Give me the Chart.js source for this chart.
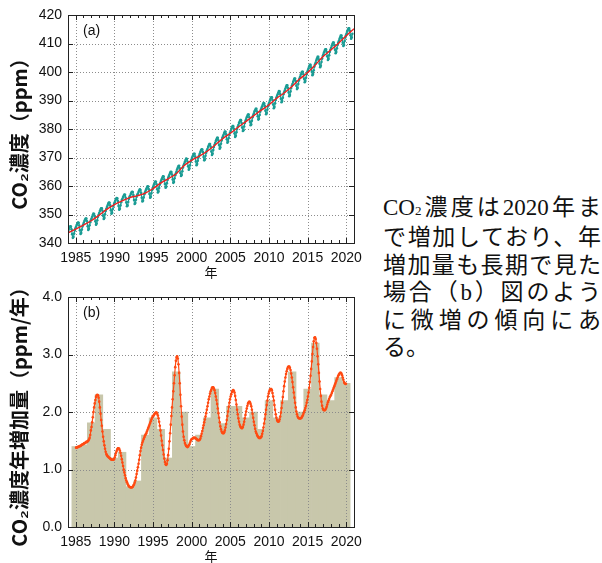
<!DOCTYPE html>
<html>
<head>
<meta charset="utf-8">
<script src="https://cdn.jsdelivr.net/npm/chart.js@4.4.1/dist/chart.umd.min.js"></script>
<style>
  html, body { margin: 0; padding: 0; background: #fff; }
  body { width: 602px; height: 563px; position: relative; overflow: hidden; }
  #wrapA { position: absolute; left: 0; top: 0; width: 370px; height: 282px; }
  #wrapB { position: absolute; left: 0; top: 282px; width: 370px; height: 281px; }
  #note {
    position: absolute; left: 383px; top: 194px; width: 218px;
    font-family: "Liberation Serif", "Noto Sans CJK JP", serif;
    font-size: 23px; line-height: 27.4px; color: #111;
  }
  #note div { text-align: justify; text-align-last: justify; }
  #note div.last { text-align-last: left; }
  #note .sub { font-size: 13px; }
</style>
</head>
<body>
<div id="wrapA"><canvas id="chartA" width="370" height="282"></canvas></div>
<div id="wrapB"><canvas id="chartB" width="370" height="281"></canvas></div>
<div id="note">
  <div>CO<span class="sub">2</span>濃度は2020年ま</div>
  <div>で増加しており、年</div>
  <div>増加量も長期で見た</div>
  <div>場合（b）図のよう</div>
  <div>に微増の傾向にあ</div>
  <div class="last">る。</div>
</div>
<script>
// ---- data -----------------------------------------------------------
// x-axis tick years (both panels)
const xTickYears = [1985, 1990, 1995, 2000, 2005, 2010, 2015, 2020];

// (a) monthly mean CO2 concentration (ppm), Jan 1984 onward
const co2Monthly = [
  344.4,345.0,345.5,345.9,345.8,344.8,343.1,341.8,342.1,343.3,344.4,345.2,
  345.7,346.3,346.8,347.2,347.1,346.1,344.5,343.2,343.5,344.7,345.8,346.5,
  347.1,347.7,348.2,348.6,348.6,347.6,345.9,344.6,345.0,346.2,347.3,348.0,
  348.6,349.2,349.8,350.3,350.2,349.3,347.6,346.4,346.8,348.0,349.2,349.9,
  350.5,351.2,351.7,352.2,352.2,351.3,349.6,348.4,348.8,350.1,351.2,352.0,
  352.6,353.2,353.8,354.2,354.1,353.2,351.5,350.3,350.6,351.9,353.0,353.7,
  354.3,354.9,355.4,355.8,355.7,354.7,353.0,351.7,352.0,353.2,354.3,355.1,
  355.5,356.1,356.6,357.0,356.9,355.9,354.2,352.9,353.2,354.4,355.5,356.2,
  356.6,357.2,357.7,358.0,357.9,356.8,355.1,353.7,354.0,355.2,356.2,356.9,
  357.3,357.9,358.4,358.8,358.6,357.6,355.9,354.6,354.8,356.0,357.1,357.8,
  358.3,358.9,359.4,359.9,359.8,358.8,357.2,355.9,356.2,357.5,358.6,359.3,
  359.9,360.5,361.1,361.6,361.5,360.6,358.9,357.7,358.1,359.3,360.5,361.2,
  361.8,362.4,362.9,363.4,363.3,362.3,360.7,359.4,359.7,361.0,362.1,362.8,
  363.4,364.0,364.6,365.0,364.9,364.0,362.3,361.1,361.4,362.7,363.8,364.5,
  365.1,365.9,366.5,367.0,367.1,366.2,364.6,363.5,363.9,365.2,366.5,367.3,
  367.9,368.5,369.1,369.6,369.5,368.6,366.9,365.7,366.1,367.3,368.5,369.2,
  369.8,370.4,370.9,371.3,371.3,370.3,368.6,367.3,367.7,368.9,370.0,370.7,
  371.3,371.9,372.5,372.9,372.8,371.9,370.2,369.0,369.3,370.6,371.7,372.4,
  373.0,373.7,374.2,374.7,374.7,373.8,372.1,370.9,371.3,372.6,373.7,374.5,
  375.1,375.8,376.4,376.9,376.9,376.0,374.4,373.1,373.5,374.8,376.0,376.8,
  377.4,378.0,378.6,379.1,379.0,378.1,376.4,375.2,375.6,376.8,378.0,378.7,
  379.3,380.0,380.5,381.0,381.0,380.1,378.4,377.2,377.6,378.9,380.0,380.8,
  381.4,382.1,382.6,383.1,383.1,382.1,380.5,379.3,379.6,380.9,382.1,382.8,
  383.4,384.1,384.6,385.1,385.1,384.1,382.5,381.3,381.6,382.9,384.1,384.8,
  385.4,386.1,386.6,387.1,387.1,386.1,384.5,383.3,383.6,384.9,386.1,386.8,
  387.4,388.0,388.6,389.1,389.0,388.1,386.4,385.2,385.6,386.8,388.0,388.7,
  389.3,390.0,390.6,391.1,391.1,390.2,388.6,387.3,387.7,389.0,390.2,391.0,
  391.6,392.2,392.8,393.3,393.2,392.3,390.6,389.4,389.8,391.0,392.2,392.9,
  393.5,394.2,394.8,395.3,395.3,394.4,392.8,391.5,391.9,393.2,394.4,395.2,
  395.8,396.5,397.1,397.7,397.7,396.8,395.2,394.0,394.4,395.8,397.0,397.8,
  398.4,399.1,399.7,400.1,400.1,399.2,397.6,396.4,396.8,398.0,399.2,400.0,
  400.6,401.3,402.0,402.5,402.5,401.6,400.1,398.9,399.3,400.6,401.9,402.7,
  403.3,404.1,404.7,405.3,405.3,404.4,402.9,401.7,402.2,403.5,404.7,405.6,
  406.2,406.9,407.5,408.0,408.0,407.1,405.5,404.2,404.6,405.9,407.1,407.9,
  408.5,409.2,409.8,410.3,410.3,409.4,407.8,406.6,407.0,408.3,409.5,410.3,
  410.9,411.6,412.2,412.8,412.8,411.9,410.3,409.1,409.5,410.9,412.1,412.9,
  413.5,414.2,414.8,415.3,415.3,414.5,412.9,411.7,412.1,413.4
];
const co2StartYear = 1984;

// (a) deseasonalized trend (ppm) at the start of each year
const trendYears = [1984,1985,1986,1987,1988,1989,1990,1991,1992,1993,1994,1995,1996,1997,1998,1999,2000,
  2001,2002,2003,2004,2005,2006,2007,2008,2009,2010,2011,2012,2013,2014,2015,2016,2017,2018,2019,2020,2021];
const trendValues = [343.6,344.9,346.3,347.8,349.7,351.8,353.5,354.8,355.9,356.6,357.5,359.1,361.0,362.6,364.3,367.1,369.0,
  370.5,372.2,374.3,376.6,378.5,380.6,382.6,384.6,386.6,388.5,390.8,392.7,395.0,397.6,399.8,402.5,405.4,407.7,410.1,412.7,415.2];

// (b) annual increase (ppm/year)
const growthYears = [1985,1986,1987,1988,1989,1990,1991,1992,1993,1994,1995,1996,1997,1998,1999,2000,
  2001,2002,2003,2004,2005,2006,2007,2008,2009,2010,2011,2012,2013,2014,2015,2016,2017,2018,2019,2020];
const growthAnnual = [1.40,1.43,1.81,2.30,1.70,1.20,1.30,0.70,0.80,1.60,1.90,1.70,1.20,2.70,2.00,1.40,
  1.60,1.90,2.40,1.80,2.10,2.10,1.90,2.00,1.70,2.20,1.90,2.20,2.70,2.00,2.40,3.20,2.30,2.20,2.60,2.50];

// (b) monthly growth rate (ppm/year), Jan 1985 onward
const growthMonthly = [
  1.38,1.38,1.39,1.39,1.40,1.40,1.41,1.41,1.42,1.43,1.44,1.44,
  1.45,1.46,1.46,1.47,1.48,1.48,1.49,1.50,1.52,1.55,1.60,1.68,
  1.74,1.82,1.91,2.00,2.08,2.15,2.21,2.26,2.29,2.30,2.29,2.25,
  2.18,2.08,1.97,1.86,1.76,1.66,1.57,1.49,1.42,1.36,1.31,1.27,
  1.25,1.23,1.22,1.21,1.20,1.19,1.18,1.17,1.17,1.17,1.17,1.18,
  1.21,1.25,1.29,1.32,1.35,1.37,1.37,1.36,1.33,1.29,1.24,1.18,
  1.12,1.06,1.00,0.95,0.90,0.85,0.81,0.78,0.75,0.73,0.71,0.70,
  0.69,0.69,0.69,0.69,0.70,0.72,0.74,0.77,0.81,0.86,0.92,0.98,
  1.04,1.10,1.17,1.25,1.32,1.38,1.43,1.47,1.50,1.53,1.56,1.59,
  1.61,1.63,1.66,1.69,1.72,1.75,1.78,1.81,1.84,1.87,1.90,1.93,
  1.93,1.95,1.97,1.98,1.99,1.99,1.97,1.94,1.89,1.83,1.76,1.68,
  1.59,1.50,1.42,1.34,1.26,1.19,1.13,1.09,1.08,1.10,1.16,1.25,
  1.36,1.49,1.63,1.78,1.93,2.08,2.22,2.36,2.50,2.64,2.78,2.89,
  2.95,2.97,2.93,2.83,2.68,2.50,2.30,2.10,1.92,1.78,1.66,1.57,
  1.51,1.46,1.43,1.41,1.40,1.39,1.40,1.42,1.44,1.47,1.50,1.52,
  1.53,1.54,1.55,1.55,1.55,1.55,1.54,1.53,1.52,1.51,1.51,1.51,
  1.52,1.54,1.58,1.62,1.67,1.72,1.77,1.82,1.87,1.92,1.98,2.04,
  2.10,2.16,2.22,2.27,2.32,2.36,2.39,2.42,2.43,2.43,2.41,2.38,
  2.33,2.27,2.21,2.14,2.06,1.98,1.90,1.82,1.75,1.70,1.66,1.64,
  1.63,1.63,1.65,1.68,1.73,1.79,1.86,1.93,2.01,2.09,2.16,2.22,
  2.27,2.31,2.35,2.37,2.38,2.37,2.34,2.28,2.21,2.13,2.04,1.96,
  1.89,1.83,1.78,1.75,1.73,1.72,1.72,1.74,1.78,1.83,1.89,1.95,
  2.01,2.06,2.11,2.15,2.17,2.18,2.17,2.14,2.10,2.04,1.97,1.90,
  1.83,1.77,1.71,1.66,1.63,1.60,1.58,1.56,1.55,1.55,1.55,1.56,
  1.58,1.62,1.67,1.73,1.80,1.88,1.96,2.04,2.12,2.20,2.27,2.32,
  2.36,2.39,2.40,2.40,2.38,2.33,2.27,2.20,2.12,2.04,1.96,1.90,
  1.86,1.84,1.83,1.84,1.87,1.92,1.99,2.07,2.16,2.26,2.36,2.45,
  2.53,2.60,2.66,2.71,2.75,2.78,2.79,2.79,2.77,2.73,2.67,2.60,
  2.52,2.43,2.34,2.25,2.16,2.08,2.01,1.96,1.92,1.90,1.89,1.89,
  1.89,1.89,1.90,1.92,1.94,1.97,2.00,2.03,2.07,2.11,2.16,2.21,
  2.27,2.34,2.42,2.52,2.63,2.75,2.88,3.01,3.13,3.23,3.29,3.30,
  3.27,3.20,3.10,2.97,2.83,2.68,2.53,2.40,2.28,2.18,2.11,2.06,
  2.04,2.03,2.03,2.04,2.06,2.09,2.13,2.17,2.20,2.23,2.26,2.28,
  2.30,2.33,2.36,2.39,2.42,2.45,2.48,2.51,2.54,2.57,2.60,2.63,
  2.65,2.67,2.68,2.68,2.67,2.64,2.60,2.56,2.52,2.50,2.49,2.49
];
const growthStartYear = 1985;

// ---- helpers --------------------------------------------------------
const monthly = (arr, y0) => arr.map((v, i) => ({ x: y0 + (i + 0.5) / 12, y: v }));
const paired = (xs, ys) => xs.map((x, i) => ({ x: x, y: ys[i] }));

const tickFont = { family: '"Liberation Sans", Arial, sans-serif', size: 14 };
const titleFontY = { family: '"Noto Sans CJK JP", "Liberation Sans", sans-serif', size: 20, weight: 'bold' };
const titleFontX = { family: '"Noto Sans CJK JP", sans-serif', size: 13 };

// dotted grid, inward ticks, frame and panel label
function drawGrid(chart) {
  const { ctx, chartArea: a, scales: { x, y } } = chart;
  ctx.save();
  ctx.strokeStyle = '#8c8c8c';
  ctx.lineWidth = 1;
  ctx.setLineDash([1, 2]);
  ctx.beginPath();
  x.ticks.forEach(t => {
    const px = Math.round(x.getPixelForValue(t.value)) + 0.5;
    ctx.moveTo(px, a.top); ctx.lineTo(px, a.bottom);
  });
  y.ticks.forEach(t => {
    const py = Math.round(y.getPixelForValue(t.value)) + 0.5;
    if (py <= a.top + 1 || py >= a.bottom - 1) return;
    ctx.moveTo(a.left, py); ctx.lineTo(a.right, py);
  });
  ctx.stroke();
  ctx.restore();
}

const framePlugin = {
  id: 'frame',
  beforeDatasetsDraw(chart, args, opts) {
    if (opts.gridAfter === undefined) drawGrid(chart);
  },
  afterDatasetDraw(chart, args, opts) {
    if (args.index === opts.gridAfter) drawGrid(chart);
  },
  afterDraw(chart, args, opts) {
    const { ctx, chartArea: a, scales: { x, y } } = chart;
    ctx.save();
    ctx.strokeStyle = '#222';
    ctx.lineWidth = 1;
    ctx.beginPath();
    for (let yr = Math.ceil(x.min); yr <= x.max; yr++) {
      const px = Math.round(x.getPixelForValue(yr)) + 0.5;
      const len = yr % 5 === 0 ? 5 : 3;
      ctx.moveTo(px, a.bottom); ctx.lineTo(px, a.bottom - len);
      ctx.moveTo(px, a.top); ctx.lineTo(px, a.top + len);
    }
    y.ticks.forEach(t => {
      const py = Math.round(y.getPixelForValue(t.value)) + 0.5;
      ctx.moveTo(a.left, py); ctx.lineTo(a.left + 5, py);
      ctx.moveTo(a.right, py); ctx.lineTo(a.right - 5, py);
    });
    ctx.stroke();
    ctx.strokeRect(Math.round(a.left) + 0.5, Math.round(a.top) + 0.5,
      Math.round(a.right - a.left), Math.round(a.bottom - a.top));
    ctx.fillStyle = '#111';
    ctx.font = '14px "Liberation Sans", Arial, sans-serif';
    ctx.textBaseline = 'middle';
    ctx.textAlign = 'left';
    ctx.fillText(opts.label, a.left + 15, a.top + 16);
    ctx.restore();
  }
};

function xScale(axisHeight, titlePadBottom) {
  return {
    type: 'linear', min: 1984, max: 2021, offset: false,
    afterBuildTicks: s => { s.ticks = xTickYears.map(v => ({ value: v })); },
    afterFit: s => { s.height = axisHeight; },
    grid: { display: false, drawTicks: false },
    border: { display: false },
    ticks: { font: tickFont, color: '#111', padding: 7, maxRotation: 0, autoSkip: false,
             callback: v => String(v) },
    title: { display: true, text: '年', font: titleFontX, color: '#111', padding: { top: 0, bottom: titlePadBottom } }
  };
}

function yScale(min, max, step, digits, title) {
  return {
    min: min, max: max,
    afterFit: s => { s.width = 68; },
    grid: { display: false, drawTicks: false },
    border: { display: false },
    ticks: { stepSize: step, font: tickFont, color: '#111', padding: 6,
             callback: v => Number(v).toFixed(digits) },
    title: { display: true, text: title, font: titleFontY, color: '#111', padding: { top: 7, bottom: 0 } }
  };
}

Chart.defaults.animation = false;

// ---- (a) concentration ---------------------------------------------
new Chart(document.getElementById('chartA'), {
  type: 'line',
  data: {
    datasets: [
      {
        label: 'trend',
        data: paired(trendYears, trendValues),
        borderColor: '#f01e1e', borderWidth: 1.4,
        pointRadius: 0, cubicInterpolationMode: 'monotone', order: 1
      },
      {
        label: 'monthly',
        data: monthly(co2Monthly, co2StartYear),
        borderColor: '#1a9c94', borderWidth: 1.2,
        pointRadius: 1.3, pointBackgroundColor: '#1a9c94', pointBorderWidth: 0,
        tension: 0.35, order: 2
      }
    ]
  },
  options: {
    responsive: false, devicePixelRatio: 1,
    layout: { padding: { left: 0, right: 16, top: 15, bottom: 0 } },
    plugins: { legend: { display: false }, tooltip: { enabled: false }, frame: { label: '(a)' } },
    scales: {
      x: xScale(39, 2),
      y: yScale(340, 420, 10, 0, 'CO₂濃度（ppm）')
    }
  },
  plugins: [framePlugin]
});

// ---- (b) annual increase -------------------------------------------
new Chart(document.getElementById('chartB'), {
  type: 'bar',
  data: {
    datasets: [
      {
        type: 'line',
        label: 'monthly growth',
        data: monthly(growthMonthly, growthStartYear),
        borderColor: '#ff4a12', borderWidth: 1.2,
        pointRadius: 1.3, pointBackgroundColor: '#ff4a12', pointBorderWidth: 0,
        tension: 0.2, order: 1
      },
      {
        type: 'bar',
        label: 'annual',
        data: paired(growthYears, growthAnnual),
        backgroundColor: '#c8c7ab', borderWidth: 0,
        barPercentage: 1.0, categoryPercentage: 1.0, order: 2
      }
    ]
  },
  options: {
    responsive: false, devicePixelRatio: 1,
    layout: { padding: { left: 0, right: 16, top: 15, bottom: 0 } },
    plugins: { legend: { display: false }, tooltip: { enabled: false }, frame: { label: '(b)', gridAfter: 1 } },
    scales: {
      x: xScale(36, -1),
      y: yScale(0, 4, 1, 1, 'CO₂濃度年増加量（ppm/年）')
    }
  },
  plugins: [framePlugin]
});
</script>
</body>
</html>
